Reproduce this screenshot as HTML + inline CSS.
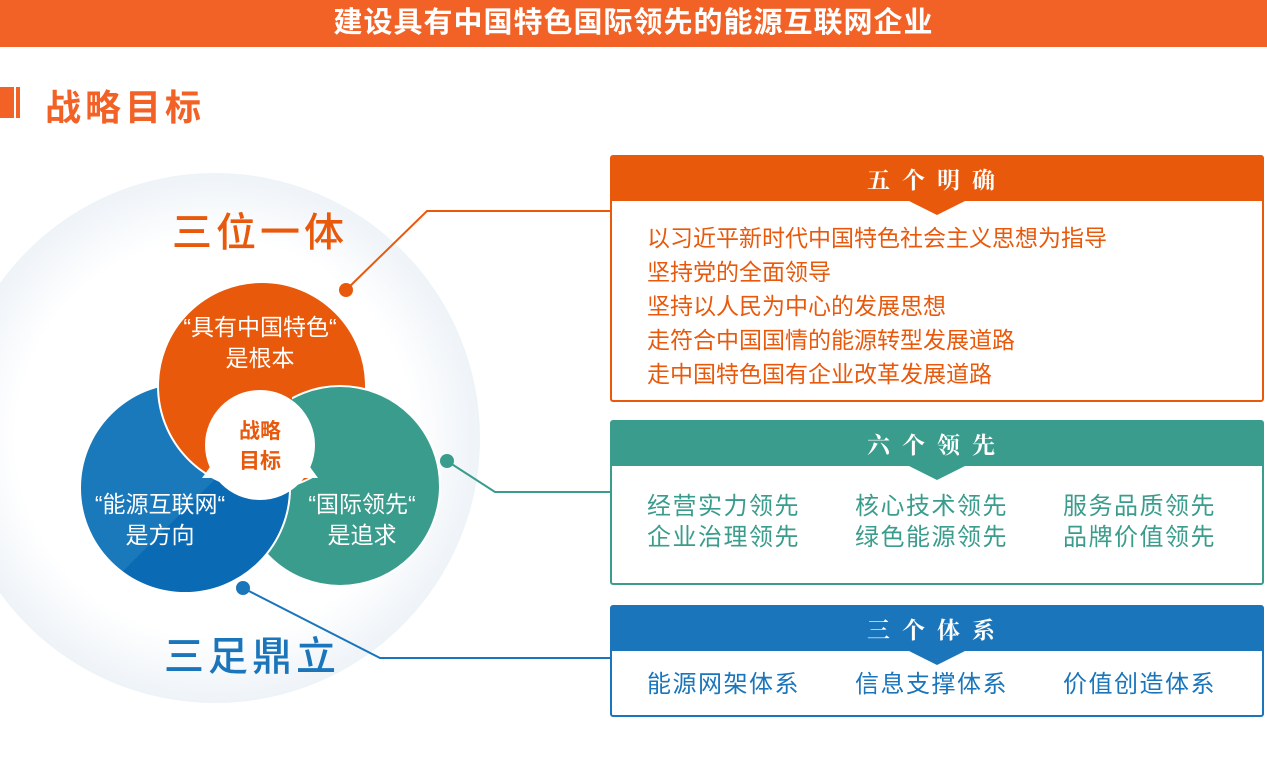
<!DOCTYPE html>
<html><head><meta charset="utf-8"><style>
body{margin:0;width:1267px;height:758px;overflow:hidden;background:#fff;position:relative;font-family:"Liberation Sans","Noto Sans CJK SC",sans-serif}
.a{position:absolute;white-space:nowrap}
.box{position:absolute;left:610px;width:650px;border:2px solid;background:#fff;border-radius:3px}
.hd{height:44px;color:#fff;font-family:"Noto Serif CJK SC","Noto Sans CJK SC",serif;font-weight:bold;font-size:23px;text-align:center;line-height:44px;letter-spacing:12px;position:relative}
.hd:after{content:"";position:absolute;left:50%;bottom:-14px;margin-left:-28px;border-left:28px solid transparent;border-right:28px solid transparent;border-top:14px solid var(--c)}
.t{position:absolute;font-size:23px;line-height:34px}
.t2{font-size:24px;letter-spacing:1.5px;line-height:31px}
</style></head><body>
<div class="a" style="left:0;top:0;width:1267px;height:47px;background:#f26125;color:#fff;font-size:29px;font-weight:bold;text-align:center;line-height:47px;letter-spacing:1px">建设具有中国特色国际领先的能源互联网企业</div>
<div class="a" style="left:0;top:87px;width:14px;height:31px;background:#f26125"></div>
<div class="a" style="left:16px;top:87px;width:4px;height:31px;background:#f26125"></div>
<div class="a" style="left:45px;top:79px;font-size:36px;font-weight:bold;color:#f26125;letter-spacing:4px">战略目标</div>

<svg class="a" style="left:0;top:0" width="620" height="758">
<defs><radialGradient id="g" cx="50%" cy="50%" r="50%"><stop offset="0.75" stop-color="#fff"/><stop offset="1" stop-color="#eef3f8"/></radialGradient>
<linearGradient id="bg" x1="0" y1="0" x2="1" y2="1"><stop offset="0.55" stop-color="#1a79bb"/><stop offset="0.55" stop-color="#0a6ab3"/></linearGradient>
<clipPath id="cg"><rect x="292" y="0" width="300" height="478"/></clipPath></defs>
<circle cx="215" cy="438" r="265" fill="url(#g)"/>
<circle cx="340" cy="486" r="100" fill="#3a9c8c" stroke="#fff" stroke-width="2"/>
<circle cx="185" cy="488" r="105" fill="url(#bg)" stroke="#fff" stroke-width="2"/>
<circle cx="262" cy="386" r="104" fill="#e8590c" stroke="#fff" stroke-width="2"/>
<circle cx="340" cy="486" r="100" fill="#3a9c8c" stroke="#fff" stroke-width="2" clip-path="url(#cg)"/>
<polygon points="260,398 202,478 318,478" fill="#fff"/>
<circle cx="260" cy="445" r="55" fill="#fff"/>
<text x="260" y="438" text-anchor="middle" font-size="21" font-weight="bold" fill="#e8590c" font-family="Noto Sans CJK SC">战略</text>
<text x="260" y="468" text-anchor="middle" font-size="21" font-weight="bold" fill="#e8590c" font-family="Noto Sans CJK SC">目标</text>
<g fill="#fff" font-size="23" text-anchor="middle" font-family="Liberation Sans,Noto Sans CJK SC">
<text x="260" y="335">“具有中国特色“</text><text x="260" y="366">是根本</text>
<text x="160" y="512">“能源互联网“</text><text x="160" y="543">是方向</text>
<text x="362" y="512">“国际领先“</text><text x="362" y="543">是追求</text></g>
<text x="260" y="246" text-anchor="middle" font-size="40" font-weight="500" fill="#e8590c" font-family="Noto Sans CJK SC" letter-spacing="4">三位一体</text>
<text x="252" y="670" text-anchor="middle" font-size="40" font-weight="500" fill="#1a75bb" font-family="Noto Sans CJK SC" letter-spacing="4">三足鼎立</text>
<polyline points="346,290 427,211 620,211" fill="none" stroke="#e8590c" stroke-width="2"/>
<circle cx="346" cy="290" r="7" fill="#e8590c"/>
<polyline points="447,461 495,492 620,492" fill="none" stroke="#3a9c8c" stroke-width="2"/>
<circle cx="447" cy="461" r="7" fill="#3a9c8c"/>
<polyline points="243,588 380,658 620,658" fill="none" stroke="#1a75bb" stroke-width="2"/>
<circle cx="243" cy="588" r="7" fill="#1a75bb"/>
</svg>

<div class="box" style="top:155px;height:243px;border-color:#e8590c;--c:#e8590c"><div class="hd" style="background:#e8590c">五个明确</div>
<div class="t" style="left:35px;top:64px;color:#e8590c">以习近平新时代中国特色社会主义思想为指导<br>坚持党的全面领导<br>坚持以人民为中心的发展思想<br>走符合中国国情的能源转型发展道路<br>走中国特色国有企业改革发展道路</div></div>

<div class="box" style="top:420px;height:161px;border-color:#3a9c8c;--c:#3a9c8c"><div class="hd" style="background:#3a9c8c">六个领先</div>
<div class="t t2" style="left:35px;top:69px;color:#3a9c8c">经营实力领先<br>企业治理领先</div>
<div class="t t2" style="left:243px;top:69px;color:#3a9c8c">核心技术领先<br>绿色能源领先</div>
<div class="t t2" style="left:451px;top:69px;color:#3a9c8c">服务品质领先<br>品牌价值领先</div></div>

<div class="box" style="top:605px;height:108px;border-color:#1a75bb;--c:#1a75bb"><div class="hd" style="background:#1a75bb">三个体系</div>
<div class="t t2" style="left:35px;top:62px;color:#1a75bb">能源网架体系</div>
<div class="t t2" style="left:243px;top:62px;color:#1a75bb">信息支撑体系</div>
<div class="t t2" style="left:451px;top:62px;color:#1a75bb">价值创造体系</div></div>
</body></html>
